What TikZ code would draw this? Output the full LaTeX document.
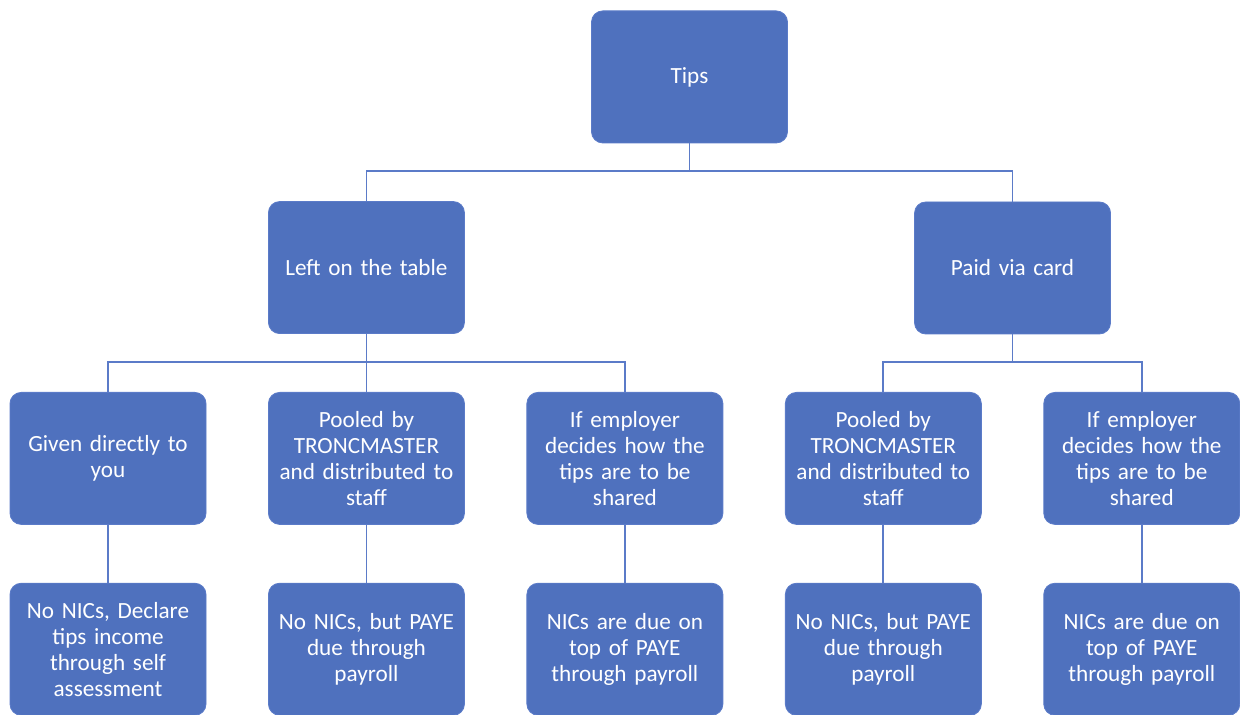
\documentclass[tikz,border=0pt]{standalone}
\usepackage{fontspec}
\setmainfont{Carlito}
\usepackage{xcolor}
\usetikzlibrary{positioning, calc}

\definecolor{boxblue}{HTML}{4F71BE}
\definecolor{lineblue}{HTML}{5B7BC8}

\begin{document}
\begin{tikzpicture}[
        node distance=1.45cm and 1.54cm,
        tipbox/.style={rectangle, draw=lineblue, fill=boxblue, line width=0.6pt, rounded corners=0.28cm,
            minimum width=4.9cm, minimum height=3.3cm, text width=4.4cm, align=center,
            text=white, font=\fontsize{16.5}{18.5}\selectfont},
        link/.style={draw=lineblue, line width=1.3pt}
    ]
        \useasboundingbox (0,0) rectangle (31,-17.875);
        \clip (0,0) rectangle (31,-17.875);

        % middle row
        \node[tipbox] (given) at (2.7,-11.46) {Given directly to\\you};
        \node[tipbox, right=of given] (pool1) {Pooled by\\TRONCMASTER\\and distributed to\\staff};
        \node[tipbox, right=of pool1] (employer1) {If employer\\decides how the\\tips are to be\\shared};
        \node[tipbox, right=of employer1] (pool2) {Pooled by\\TRONCMASTER\\and distributed to\\staff};
        \node[tipbox, right=of pool2] (employer2) {If employer\\decides how the\\tips are to be\\shared};

        % bottom row
        \node[tipbox, below=of given] (selfass) {No NICs, Declare\\tips income\\through self\\assessment};
        \node[tipbox, below=of pool1] (paye1) {No NICs, but PAYE\\due through\\payroll};
        \node[tipbox, below=of employer1] (nics1) {NICs are due on\\top of PAYE\\through payroll};
        \node[tipbox, below=of pool2] (paye2) {No NICs, but PAYE\\due through\\payroll};
        \node[tipbox, below=of employer2] (nics2) {NICs are due on\\top of PAYE\\through payroll};

        % top rows
        \node[tipbox, above=of pool1] (table) {Left on the table};
        \coordinate (cardpos) at ($(pool2)!0.5!(employer2)$);
        \node[tipbox, above=of cardpos, yshift=1.65cm] (card) {Paid via card};
        \node[tipbox, above=of $(table.north)!0.5!(card.north)$, anchor=south] (tips) {Tips};

        \draw[link] (tips.south) -- ++(0,-0.7) -| (table.north);
        \draw[link] (tips.south) -- ++(0,-0.7) -| (card.north);

        \draw[link] (table.south) -- ++(0,-0.7) -| (given.north);
        \draw[link] (table.south) -- ++(0,-0.7) -| (pool1.north);
        \draw[link] (table.south) -- ++(0,-0.7) -| (employer1.north);

        \draw[link] (card.south) -- ++(0,-0.7) -| (pool2.north);
        \draw[link] (card.south) -- ++(0,-0.7) -| (employer2.north);

        \draw[link] (given) -- (selfass);
        \draw[link] (pool1) -- (paye1);
        \draw[link] (employer1) -- (nics1);
        \draw[link] (pool2) -- (paye2);
        \draw[link] (employer2) -- (nics2);

    \end{tikzpicture}
\end{document}
